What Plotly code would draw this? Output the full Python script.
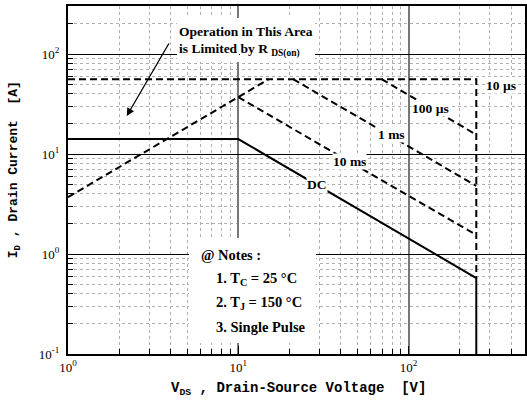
import math
import plotly.graph_objects as go

# ---- data ----
ron_v = [1, 15.1]
ron_i = [3.7, 56]
us10_v = [1, 250, 250]
us10_i = [56, 56, 0.575]
us100_v = [69.5, 250]
us100_i = [56, 15.6]
ms1_v = [21, 250]
ms1_i = [56, 4.8]
ms10_v = [10, 250]
ms10_i = [37, 1.55]
dc_v = [1, 10, 250, 250]
dc_i = [14.1, 14.1, 0.575, 0.1]

x_major = [1, 10, 100]
x_major_text = ["10<sup>0</sup>", "10<sup>1</sup>", "10<sup>2</sup>"]
y_major = [0.1, 1, 10, 100]
y_major_text = ["10<sup>-1</sup>", "10<sup>0</sup>", "10<sup>1</sup>", "10<sup>2</sup>"]
minor_vals = [m * d for d in (0.1, 1, 10, 100) for m in range(2, 10)]

W, H = 527, 411
L, R, T, B = 68, 0, 6, 57
PW, PH = W - L - R, H - T - B


def px(x):
    return (x - L) / PW


def py(y):
    return (H - B - y) / PH


fig = go.Figure()
dash = dict(color="black", width=2, dash="7px,4px")
for vx, iy in [(ron_v, ron_i), (us10_v, us10_i), (us100_v, us100_i),
               (ms1_v, ms1_i), (ms10_v, ms10_i)]:
    fig.add_trace(go.Scatter(x=vx, y=iy, mode="lines", line=dash,
                             showlegend=False, hoverinfo="skip"))
fig.add_trace(go.Scatter(x=dc_v, y=dc_i, mode="lines",
                         line=dict(color="black", width=2),
                         showlegend=False, hoverinfo="skip"))

tickfont = dict(family="Liberation Serif", size=13, color="black")
minor = dict(tickvals=minor_vals, ticks="inside", ticklen=5, tickcolor="black",
             showgrid=True, gridcolor="#b0b0b0", griddash="dot", gridwidth=1)

fig.update_xaxes(type="log", range=[0, 2.684], tickmode="array",
                 tickvals=x_major, ticktext=x_major_text, ticks="inside",
                 ticklen=8, tickcolor="black", showline=True, linecolor="black",
                 linewidth=2, mirror=True, showgrid=True, gridcolor="#777777",
                 gridwidth=1.5, tickfont=tickfont, minor=minor, zeroline=False)
fig.update_yaxes(type="log", range=[-1, 2.48], tickmode="array",
                 tickvals=y_major, ticktext=y_major_text, ticks="inside",
                 ticklen=8, tickcolor="black", showline=True, linecolor="black",
                 linewidth=2, mirror=True, showgrid=True, gridcolor="black",
                 gridwidth=1.2, tickfont=tickfont, minor=minor, zeroline=False,
                 ticklabelstandoff=4)


def white_box(x0, x1, y0, y1):
    fig.add_annotation(x=px(x0), y=py(y0), xref="paper", yref="paper",
                       xanchor="left", yanchor="top", text=" ",
                       width=x1 - x0, height=y1 - y0, bgcolor="white",
                       borderpad=0, borderwidth=0, showarrow=False)


# white panels behind text blocks
white_box(190, 317, 238, 343)
white_box(177, 239, 18, 62)
white_box(241, 316, 18, 62)

lab = dict(family="Liberation Serif", size=13.5, color="black", weight="bold")
annos = [
    ("10 \u00b5s", 2.544, 1.69),
    ("100 \u00b5s", 2.129, 1.46),
    ("1 ms", 1.90, 1.20),
    ("10 ms", 1.655, 0.93),
    ("DC", 1.462, 0.70),
]
for txt, xl, yl in annos:
    fig.add_annotation(x=xl, y=yl, xref="x", yref="y", text=txt,
                       showarrow=False, font=lab, bgcolor="white", borderpad=0,
                       xanchor="center", yanchor="middle")

fig.add_annotation(x=px(177), y=py(32), xref="paper", yref="paper",
                   text="Operation in This Area", showarrow=False, font=lab,
                   xanchor="left", yanchor="middle")
fig.add_annotation(x=px(177), y=py(50), xref="paper", yref="paper",
                   text="is Limited by R <sub>DS(on)</sub>", showarrow=False,
                   font=lab, xanchor="left", yanchor="middle")
fig.add_annotation(x=px(127), y=py(116), xref="paper", yref="paper", text="",
                   showarrow=True, arrowhead=2, arrowsize=1.2, arrowwidth=1.3,
                   arrowcolor="black", ax=43, ay=-74)

nfont = dict(family="Liberation Serif", size=14.5, color="black", weight="bold")
notes = [
    ("@ Notes :", 200, 255),
    ("1. T<sub>C</sub> = 25 \u00b0C", 215, 279),
    ("2. T<sub>J</sub> = 150 \u00b0C", 215, 303),
    ("3. Single Pulse", 215, 327),
]
for txt, x, y in notes:
    fig.add_annotation(x=px(x), y=py(y), xref="paper", yref="paper", text=txt,
                       showarrow=False, font=nfont, xanchor="left",
                       yanchor="middle")

tfont = dict(family="Liberation Mono", size=14, color="black")
fig.add_annotation(x=px(300), y=py(389), xref="paper", yref="paper",
                   text="<b>V<sub>DS</sub> , Drain-Source Voltage\u00a0\u00a0[V]</b>",
                   showarrow=False, font=tfont, xanchor="center",
                   yanchor="middle")
fig.add_annotation(x=px(14), y=py(170), xref="paper", yref="paper",
                   text="<b>I<sub>D</sub> , Drain Current\u00a0\u00a0[A]</b>",
                   showarrow=False, font=dict(family="Liberation Mono", size=13,
                                              color="black"), textangle=-90,
                   xanchor="center", yanchor="middle")

fig.update_layout(width=W, height=H, margin=dict(l=L, r=R, t=T, b=B),
                  plot_bgcolor="white", paper_bgcolor="white",
                  showlegend=False)
fig.write_html("out.html", config={"displayModeBar": False},
               post_script="document.body.style.margin='0px';")
